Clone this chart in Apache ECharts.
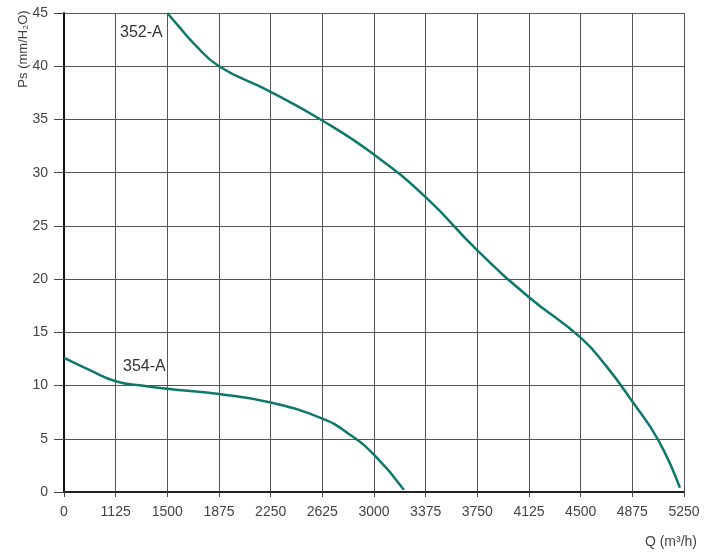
<!DOCTYPE html>
<html>
<head>
<meta charset="utf-8">
<script src="https://cdn.jsdelivr.net/npm/echarts@6/dist/echarts.min.js"></script>
<style>
html,body{margin:0;padding:0;background:#fff;}
#c{width:716px;height:556px;}
</style>
</head>
<body>
<div id="c"></div>
<script>
// Tick labels of the (piecewise) Q axis, m3/h
const xTicks = [0, 1125, 1500, 1875, 2250, 2625, 3000, 3375, 3750, 4125, 4500, 4875, 5250];
// Curve 352-A
const q352 = [1500, 1592, 1687.5, 1875, 2250, 2625, 3000, 3375, 3750, 4125, 4500, 4687.5, 4875, 5062.5, 5220];
const ps352 = [45, 43.6, 42.2, 40, 37.6, 34.9, 31.7, 27.7, 22.7, 18.3, 14.5, 11.8, 8.5, 4.9, 0.4];
// Curve 354-A
const q354 = [0, 562.5, 1125, 1312.5, 1500, 1875, 2250, 2625, 2812.5, 3000, 3217];
const ps354 = [12.6, 11.45, 10.4, 10.0, 9.7, 9.2, 8.4, 6.9, 5.5, 3.5, 0.2];
const seriesNames = ['352-A', '354-A'];

// map a Q value onto the evenly spaced tick positions (axis is not linear between 0 and 1125)
function qToPos(q) {
  for (let i = 0; i < xTicks.length - 1; i++) {
    if (q <= xTicks[i + 1]) return i + (q - xTicks[i]) / (xTicks[i + 1] - xTicks[i]);
  }
  return xTicks.length - 1;
}
function pairs(qs, ps) { return qs.map((q, i) => [qToPos(q), ps[i]]); }

const FONT = "'Liberation Sans Narrow', 'Arial Narrow', 'Liberation Sans', sans-serif";
const chart = echarts.init(document.getElementById('c'), null, {renderer: 'canvas'});
const lineColor = '#0f786c';
chart.setOption({
  animation: false,
  backgroundColor: '#ffffff',
  grid: {left: 64, right: 32, top: 13, bottom: 64},
  xAxis: {
    type: 'value', min: 0, max: xTicks.length - 1, interval: 1,
    axisLine: {lineStyle: {color: '#222', width: 2}},
    axisTick: {show: true, length: 5, lineStyle: {color: '#444'}},
    axisLabel: {margin: 13, color: '#444', fontFamily: FONT, fontSize: 14,
      formatter: v => xTicks[v] !== undefined ? String(xTicks[v]) : ''},
    splitLine: {show: true, lineStyle: {color: '#555', width: 1}}
  },
  yAxis: {
    type: 'value', min: 0, max: 45, interval: 5,
    axisLine: {show: true, lineStyle: {color: '#111', width: 2}},
    axisTick: {show: true, length: 10, lineStyle: {color: '#444'}},
    axisLabel: {margin: 16, color: '#444', fontFamily: FONT, fontSize: 14},
    splitLine: {show: true, lineStyle: {color: '#555', width: 1}}
  },
  series: [
    {name: seriesNames[0], type: 'line', data: pairs(q352, ps352), smooth: 0.5, showSymbol: false,
      lineStyle: {color: lineColor, width: 2.5}},
    {name: seriesNames[1], type: 'line', data: pairs(q354, ps354), smooth: 0.5, showSymbol: false,
      lineStyle: {color: lineColor, width: 2.5}}
  ],
  graphic: [
    {type: 'text', x: 23, y: 49, rotation: Math.PI / 2,
      style: {text: 'Ps (mm/H₂O)', font: '13px ' + FONT, fill: '#444', align: 'center', verticalAlign: 'middle'}},
    {type: 'text', x: 697, y: 542,
      style: {text: 'Q (m³/h)', font: '14px ' + FONT, fill: '#444', align: 'right', verticalAlign: 'middle'}},
    {type: 'text', x: 120, y: 33,
      style: {text: seriesNames[0], font: '16px ' + FONT, fill: '#333', align: 'left', verticalAlign: 'middle'}},
    {type: 'text', x: 123, y: 367,
      style: {text: seriesNames[1], font: '16px ' + FONT, fill: '#333', align: 'left', verticalAlign: 'middle'}}
  ]
});
</script>
</body>
</html>
